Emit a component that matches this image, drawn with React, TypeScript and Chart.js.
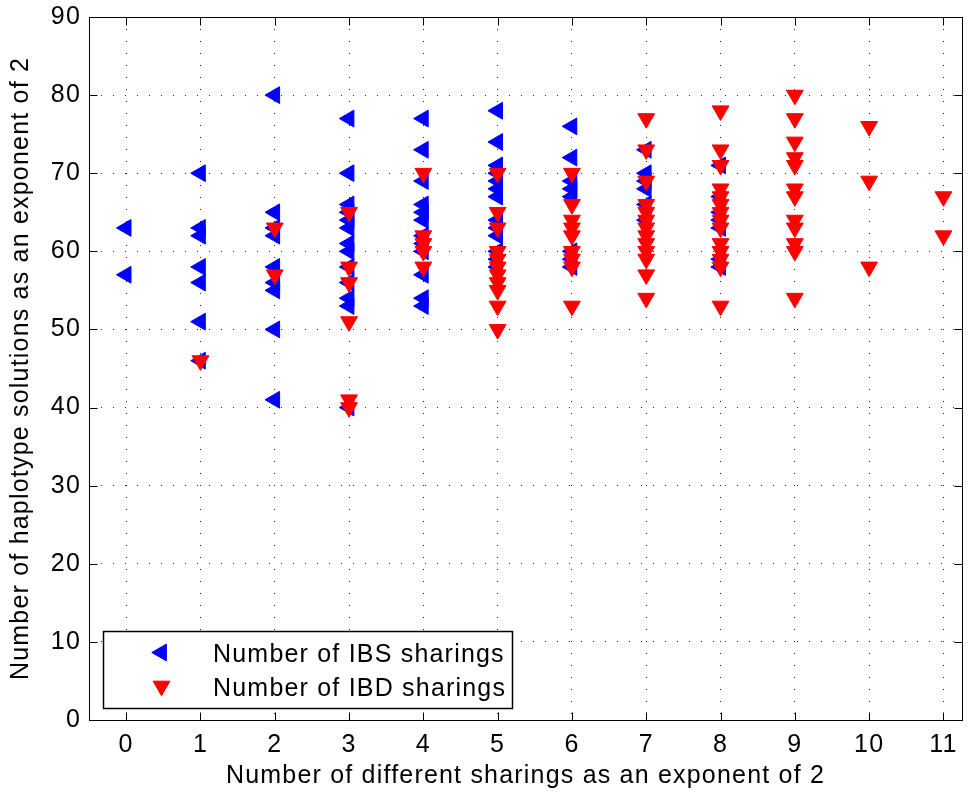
import React, { useEffect, useRef } from 'react';
import { Chart, registerables } from 'chart.js';

Chart.register(...registerables);

// Exponent of the number of different sharings (x positions)
const sharingExponents = [0, 1, 2, 3, 4, 5, 6, 7, 8, 9, 10, 11];
const yTickValues = [0, 10, 20, 30, 40, 50, 60, 70, 80, 90];

// Haplotype solution exponents for each sharing exponent (one list per x)
const ibsSolutions: number[][] = [
  [63, 57],
  [70, 63, 62, 58, 56, 51, 46],
  [80, 65, 63, 62, 58, 56, 55, 50, 41],
  [77, 70, 66, 65, 64, 63, 61, 60, 58, 56, 54, 53, 40],
  [77, 73, 69, 66, 65, 64, 62, 61, 60, 57, 54, 53],
  [78, 74, 71, 70, 69, 68, 67, 64, 63, 62, 60, 59, 58],
  [76, 72, 69, 68, 67, 60, 59, 58],
  [73, 70, 69, 68, 66, 64],
  [71, 67, 65, 64, 63, 59, 58],
  [],
  [],
  [],
];

const ibdSolutions: number[][] = [
  [],
  [46],
  [63, 57],
  [65, 58, 56, 51, 41, 40],
  [70, 62, 61, 60, 58],
  [70, 65, 63, 60, 59, 58, 57, 56, 55, 53, 50],
  [70, 66, 64, 63, 62, 60, 59, 58, 53],
  [77, 73, 69, 66, 65, 64, 63, 62, 61, 60, 59, 57, 54],
  [78, 73, 71, 68, 67, 66, 65, 64, 63, 61, 60, 59, 58, 53],
  [80, 77, 74, 72, 71, 68, 67, 64, 63, 61, 60, 54],
  [76, 69, 58],
  [67, 62],
];

const seriesLabels = ['Number of IBS sharings', 'Number of IBD sharings'];
const seriesColors = ['#0000ff', '#ff0000'];
const seriesRotations = [270, 180];
const xTitle = 'Number of different sharings as an exponent of 2';
const yTitle = 'Number of haplotype solutions as an exponent of 2';

const FONT = "'Liberation Sans', Arial, Helvetica, sans-serif";
const FONT_SIZE = 25;
const LETTER_SPACING = '1.2px';
const MARKER_R = 9.7;

const toPoints = (cols: number[][]) =>
  cols.flatMap((vals, i) => vals.map((v) => ({ x: sharingExponents[i], y: v })));

// Same geometry as Chart.js' 'triangle' point style
function drawTriangle(ctx: CanvasRenderingContext2D, x: number, y: number, r: number, rotDeg: number, color: string) {
  let rad = (rotDeg * Math.PI) / 180;
  ctx.beginPath();
  for (let i = 0; i < 3; i++) {
    const px = x + Math.sin(rad) * r;
    const py = y - Math.cos(rad) * r;
    if (i === 0) ctx.moveTo(px, py);
    else ctx.lineTo(px, py);
    rad += (2 * Math.PI) / 3;
  }
  ctx.closePath();
  ctx.fillStyle = color;
  ctx.strokeStyle = color;
  ctx.lineWidth = 1;
  ctx.fill();
  ctx.stroke();
}

// Slightly wider text, applied to every label the chart draws
const spacingPlugin = {
  id: 'letterSpacing',
  beforeUpdate(chart: any) {
    (chart.ctx as any).letterSpacing = LETTER_SPACING;
  },
  beforeDraw(chart: any) {
    (chart.ctx as any).letterSpacing = LETTER_SPACING;
  },
};

const framePlugin = {
  id: 'axesFrame',
  afterDatasetsDraw(chart: any) {
    const { ctx, chartArea, scales } = chart;
    const left = Math.round(chartArea.left) + 0.5;
    const right = Math.round(chartArea.right) + 0.5;
    const top = Math.round(chartArea.top) + 0.5;
    const bottom = Math.round(chartArea.bottom) + 0.5;
    const tl = 8;
    ctx.save();
    ctx.strokeStyle = '#000';
    ctx.lineWidth = 1;
    ctx.setLineDash([]);
    ctx.strokeRect(left, top, right - left, bottom - top);
    ctx.beginPath();
    scales.x.ticks.forEach((t: any) => {
      const px = Math.round(scales.x.getPixelForValue(t.value)) + 0.5;
      ctx.moveTo(px, bottom);
      ctx.lineTo(px, bottom - tl);
      ctx.moveTo(px, top);
      ctx.lineTo(px, top + tl);
    });
    scales.y.ticks.forEach((t: any) => {
      const py = Math.round(scales.y.getPixelForValue(t.value)) + 0.5;
      ctx.moveTo(left, py);
      ctx.lineTo(left + tl, py);
      ctx.moveTo(right, py);
      ctx.lineTo(right - tl, py);
    });
    ctx.stroke();

    // legend box in the lower-left corner of the axes
    const bx = 103.5;
    const by = 631.5;
    const bw = 409;
    const bh = 77;
    ctx.fillStyle = '#fff';
    ctx.fillRect(bx, by, bw, bh);
    ctx.lineWidth = 1.5;
    ctx.strokeRect(bx, by, bw, bh);
    const rows = [
      { markerY: 652.5, textY: 661.5 },
      { markerY: 686, textY: 695.5 },
    ];
    rows.forEach((row, i) => {
      drawTriangle(ctx, 161.5, row.markerY, MARKER_R, seriesRotations[i], seriesColors[i]);
      ctx.fillStyle = '#000';
      ctx.font = `${FONT_SIZE}px ${FONT}`;
      ctx.textAlign = 'left';
      ctx.textBaseline = 'alphabetic';
      ctx.fillText(seriesLabels[i], 213, row.textY);
    });
    ctx.restore();
  },
};

export default function App() {
  const canvasRef = useRef<HTMLCanvasElement | null>(null);

  useEffect(() => {
    document.body.style.margin = '0';
    const canvas = canvasRef.current;
    if (!canvas) return;

    const datasets = [ibsSolutions, ibdSolutions].map((cols, i) => ({
      label: seriesLabels[i],
      data: toPoints(cols),
      pointStyle: 'triangle',
      rotation: seriesRotations[i],
      radius: MARKER_R,
      pointRadius: MARKER_R,
      pointHoverRadius: MARKER_R,
      backgroundColor: seriesColors[i],
      borderColor: seriesColors[i],
      borderWidth: 1,
      order: i === 0 ? 2 : 1,
    }));

    const gridOpts = {
      display: true,
      drawTicks: false,
      color: 'rgba(0,0,0,0.85)',
      lineWidth: 1,
    };
    const borderOpts = { display: false, dash: [1, 11] };

    const chart = new Chart(canvas, {
      type: 'scatter',
      data: { datasets: datasets as any },
      options: {
        animation: false,
        responsive: true,
        maintainAspectRatio: false,
        events: [],
        layout: { padding: { left: 0, right: 14, top: 17, bottom: 0 } },
        plugins: {
          legend: { display: false },
          tooltip: { enabled: false },
        },
        scales: {
          x: {
            type: 'linear',
            min: -0.5,
            max: 11.25,
            afterBuildTicks: (scale: any) => {
              scale.ticks = sharingExponents.map((v) => ({ value: v }));
            },
            afterFit: (scale: any) => {
              scale.height = 75;
              scale.paddingLeft = 0;
              scale.paddingRight = 0;
            },
            grid: gridOpts,
            border: borderOpts,
            ticks: {
              padding: 10,
              color: '#000',
              font: { family: FONT, size: FONT_SIZE },
              callback: (v: any) => String(v),
            },
            title: {
              display: true,
              text: xTitle,
              color: '#000',
              font: { family: FONT, size: FONT_SIZE },
              padding: { top: 0, bottom: 4 },
            },
          },
          y: {
            type: 'linear',
            min: 0,
            max: 90,
            afterBuildTicks: (scale: any) => {
              scale.ticks = yTickValues.map((v) => ({ value: v }));
            },
            afterFit: (scale: any) => {
              scale.width = 89;
              scale.paddingTop = 0;
              scale.paddingBottom = 0;
            },
            grid: gridOpts,
            border: borderOpts,
            ticks: {
              padding: 8,
              color: '#000',
              font: { family: FONT, size: FONT_SIZE },
              callback: (v: any) => String(v),
            },
            title: {
              display: true,
              text: yTitle,
              color: '#000',
              font: { family: FONT, size: FONT_SIZE },
              padding: { top: 6, bottom: 0 },
            },
          },
        },
      },
      plugins: [spacingPlugin, framePlugin],
    });

    return () => chart.destroy();
  }, []);

  return (
    <div style={{ position: 'relative', width: '976px', height: '795px', background: '#fff' }}>
      <canvas ref={canvasRef} />
    </div>
  );
}
